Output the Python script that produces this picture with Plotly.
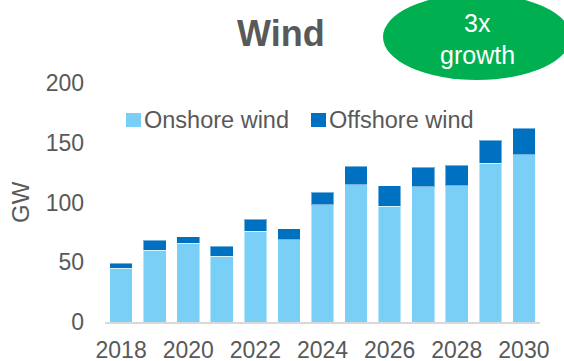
import plotly.graph_objects as go

# Annual wind capacity additions (GW)
years = [2018, 2019, 2020, 2021, 2022, 2023, 2024, 2025, 2026, 2027, 2028, 2029, 2030]
onshore = [45, 60, 66, 55, 76, 69, 98, 115, 97, 113, 114, 133, 140]
offshore = [4, 8.5, 5.5, 8.5, 10, 9, 10.5, 15.5, 17, 16.5, 17, 19, 22]
x_ticks = [2018, 2020, 2022, 2024, 2026, 2028, 2030]
y_ticks = [0, 50, 100, 150, 200]
series_names = ["Onshore wind", "Offshore wind"]

ONSHORE_COLOR = "#7ACFF7"
OFFSHORE_COLOR = "#0070C0"
TEXT_COLOR = "#595959"
FONT = "Liberation Sans, Arial, sans-serif"

W, H = 564, 361
ML, MR, MT, MB = 105, 24, 83, 39
PW, PH = W - ML - MR, H - MT - MB


def px_x(x):
    return (x - ML) / PW


def px_y(y):
    return (H - MB - y) / PH


fig = go.Figure()
edge = dict(color="rgba(255,255,255,0.45)", width=1)
fig.add_trace(go.Bar(x=years, y=onshore, name=series_names[0],
                     marker=dict(color=ONSHORE_COLOR, line=edge)))
fig.add_trace(go.Bar(x=years, y=offshore, name=series_names[1],
                     marker=dict(color=OFFSHORE_COLOR, line=edge)))

shapes = [
    # green badge
    dict(type="circle", xref="paper", yref="paper",
         x0=px_x(383), x1=px_x(571), y0=px_y(80), y1=px_y(-6),
         fillcolor="#00B050", line=dict(width=0), layer="above"),
]
annotations = [
    dict(text="<b>Wind</b>", xref="paper", yref="paper", x=px_x(281), y=px_y(34),
         xanchor="center", yanchor="middle", showarrow=False,
         font=dict(family=FONT, size=36, color=TEXT_COLOR)),
    dict(text="3x", xref="paper", yref="paper", x=px_x(477), y=px_y(23),
         xanchor="center", yanchor="middle", showarrow=False,
         font=dict(family=FONT, size=25, color="white")),
    dict(text="growth", xref="paper", yref="paper", x=px_x(477), y=px_y(55),
         xanchor="center", yanchor="middle", showarrow=False,
         font=dict(family=FONT, size=25, color="white")),
    dict(text="GW", xref="paper", yref="paper", x=px_x(20), y=px_y(202),
         xanchor="center", yanchor="middle", showarrow=False, textangle=-90,
         font=dict(family=FONT, size=24, color=TEXT_COLOR)),
]

# legend row: colour swatch followed by its label
for name, color, sx in zip(series_names, [ONSHORE_COLOR, OFFSHORE_COLOR], [126, 311]):
    shapes.append(dict(type="rect", xref="paper", yref="paper",
                       x0=px_x(sx), x1=px_x(sx + 15), y0=px_y(127), y1=px_y(113),
                       fillcolor=color, line=dict(width=0)))
    annotations.append(dict(text=name, xref="paper", yref="paper",
                            x=px_x(sx + 16), y=px_y(120), xanchor="left", yanchor="middle",
                            showarrow=False,
                            font=dict(family=FONT, size=23.5, color=TEXT_COLOR)))

fig.update_layout(
    width=W, height=H,
    margin=dict(l=ML, r=MR, t=MT, b=MB, pad=0, autoexpand=False),
    barmode="stack", bargap=0.325,
    plot_bgcolor="white", paper_bgcolor="white",
    showlegend=False,
    font=dict(family=FONT, size=23, color=TEXT_COLOR),
    shapes=shapes, annotations=annotations,
    xaxis=dict(range=[2017.52, 2030.48], tickmode="array", tickvals=x_ticks,
               showgrid=False, zeroline=False, showline=True,
               linecolor="#D9D9D9", linewidth=2, ticks="",
               ticklabelstandoff=6, automargin=False,
               tickfont=dict(size=23, color=TEXT_COLOR)),
    yaxis=dict(range=[0, 200], tickmode="array", tickvals=y_ticks,
               showgrid=False, zeroline=False, showline=False, ticks="",
               ticklabelstandoff=20, automargin=False,
               tickfont=dict(size=23, color=TEXT_COLOR)),
)

fig.write_html("out.html")
